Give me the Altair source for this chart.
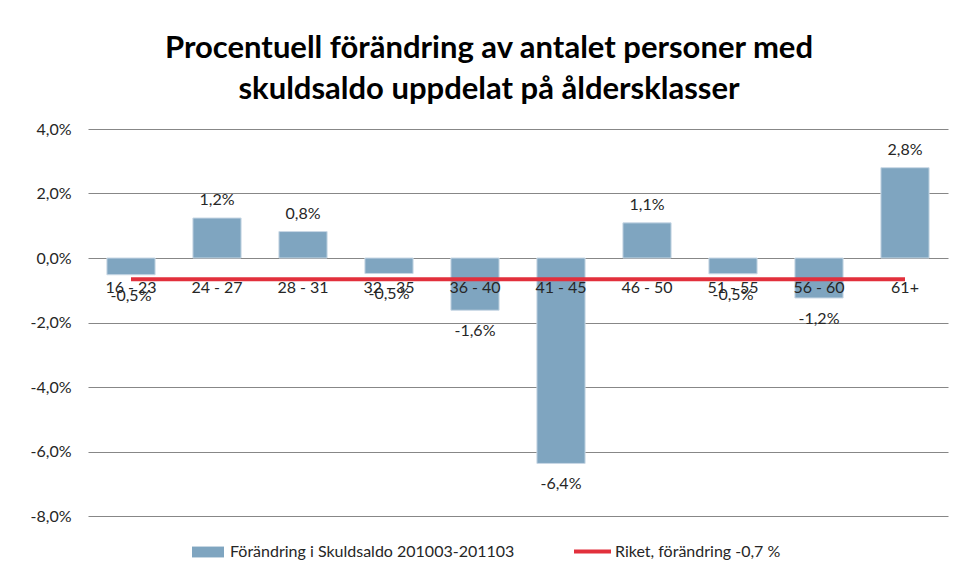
import altair as alt
import pandas as pd

categories = ["16 - 23", "24 - 27", "28 - 31", "32 - 35", "36 - 40",
              "41 - 45", "46 - 50", "51 - 55", "56 - 60", "61+"]
change = [-0.52, 1.24, 0.82, -0.48, -1.62, -6.37, 1.09, -0.49, -1.24, 2.80]
riket = [-0.66, -0.66, -0.66, -0.66, -0.66, -0.66, -0.66, -0.66, -0.66, -0.66]
y_ticks = [-8, -6, -4, -2, 0, 2, 4]
bar_series = "Förändring i Skuldsaldo 201003-201103"
line_series = "Riket, förändring -0,7 %"
title_lines = ["Procentuell förändring av antalet personer med",
               "skuldsaldo uppdelat på åldersklasser"]

df = pd.DataFrame({"cat": categories, "change": change, "riket": riket})
df["bar_s"] = bar_series
df["line_s"] = line_series

FONT = "Lato"
TXT = "#262626"
fmt = "replace(replace(format({v}/100, '.1%'), '.', ','), '\u2212', '-')"

x = alt.X("cat:N", sort=categories,
          scale=alt.Scale(paddingInner=0.44, paddingOuter=0.22), axis=None)
y_scale = alt.Scale(domain=[-8, 4], nice=False, zero=False)

base = alt.Chart(df)

bars = base.mark_bar(stroke="#c9d8e5", strokeWidth=1).encode(
    x=x,
    y=alt.Y("change:Q", scale=y_scale,
            axis=alt.Axis(values=y_ticks, labelExpr=fmt.format(v="datum.value"),
                          grid=True, gridColor="#878787", gridWidth=1,
                          domain=False, ticks=False, labelPadding=17,
                          labelFontSize=16, labelFont=FONT, labelColor=TXT,
                          title=None)),
    y2=alt.datum(0),
    fill=alt.Fill("bar_s:N", scale=alt.Scale(domain=[bar_series], range=["#7fa5c0"]),
                  legend=alt.Legend(orient="none", legendX=104, legendY=407,
                                    title=None, symbolType="M-1,-0.34H1V0.34H-1Z",
                                    symbolSize=1024, symbolStrokeWidth=0,
                                    labelFont=FONT, labelFontSize=16,
                                    labelColor=TXT, labelOffset=6, labelLimit=400)),
)

line = base.mark_line(strokeWidth=4).encode(
    x=x,
    y=alt.Y("riket:Q", scale=y_scale),
    stroke=alt.Stroke("line_s:N", scale=alt.Scale(domain=[line_series], range=["#e2303c"]),
                      legend=alt.Legend(orient="none", legendX=484, legendY=402,
                                        title=None, symbolType="stroke",
                                        symbolSize=1369, symbolStrokeWidth=4,
                                        labelFont=FONT, labelFontSize=16,
                                        labelColor=TXT, labelOffset=2, labelLimit=400)),
)

cat_labels = base.mark_text(dy=30, fontSize=16, font=FONT, color=TXT).encode(
    x=x, y=alt.datum(0), text="cat:N")

labels_base = base.transform_calculate(label=fmt.format(v="datum.change"))
pos_labels = labels_base.transform_filter("datum.change >= 0").mark_text(
    dy=-18, fontSize=16, font=FONT, color=TXT).encode(
    x=x, y=alt.Y("change:Q", scale=y_scale), text="label:N")
neg_labels = labels_base.transform_filter("datum.change < 0").mark_text(
    dy=21, fontSize=16, font=FONT, color=TXT).encode(
    x=x, y=alt.Y("change:Q", scale=y_scale), text="label:N")

chart = alt.layer(bars, line, cat_labels, pos_labels, neg_labels).properties(
    width=860, height=387,
    padding={"left": 80, "top": 121, "right": 2, "bottom": 50},
    autosize=alt.AutoSizeParams(type="none"),
    title=alt.Title(title_lines, font=FONT, fontSize=31, fontWeight="bold",
                    color="#000000", anchor="middle", dx=-29, offset=15,
                    lineHeight=41),
).configure(background="white").configure_view(stroke=None)

chart.save("out.html", embed_options={"renderer": "svg", "actions": False})
